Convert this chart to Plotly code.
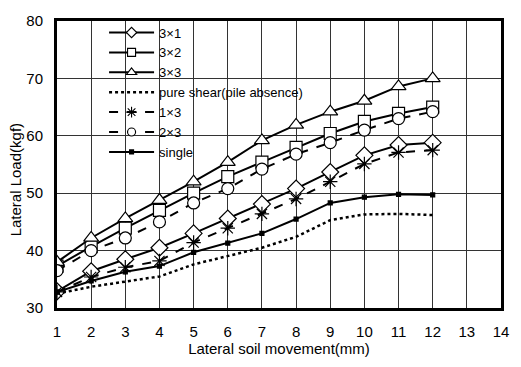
import plotly.graph_objects as go

x = [1, 2, 3, 4, 5, 6, 7, 8, 9, 10, 11, 12]
s3x1 = [32.9, 36.4, 38.5, 40.5, 43.0, 45.6, 48.1, 50.8, 53.7, 56.6, 58.4, 58.8]
s3x2 = [37.3, 40.7, 43.9, 47.0, 50.0, 52.9, 55.4, 58.0, 60.4, 62.5, 63.9, 65.0]
s3x3 = [38.0, 42.2, 45.6, 48.8, 52.0, 55.4, 59.2, 61.9, 64.2, 66.1, 68.6, 70.0]
pure = [32.5, 33.7, 34.6, 35.5, 37.6, 39.0, 40.5, 42.4, 45.3, 46.3, 46.4, 46.2]
s1x3 = [32.8, 35.4, 37.1, 38.2, 41.4, 43.9, 46.4, 49.0, 52.0, 55.1, 57.1, 57.5]
s2x3 = [36.5, 40.0, 42.2, 45.0, 48.3, 50.8, 54.2, 56.8, 58.8, 61.0, 63.0, 64.2]
single = [32.8, 34.7, 36.3, 37.3, 39.7, 41.3, 43.0, 45.5, 48.3, 49.3, 49.8, 49.7]

names = ["3×1", "3×2", "3×3", "pure shear(pile absence)", "1×3", "2×3", "single"]
xticks = list(range(1, 15))
yticks = [30, 40, 50, 60, 70, 80]

blk = "black"
series = [
    (names[0], s3x1, "diamond", "solid", 13, 8, "white"),
    (names[1], s3x2, "square", "solid", 12, 8, "white"),
    (names[2], s3x3, "triangle-up", "solid", 13, 9, "white"),
    (names[3], pure, None, "dot", 0, 0, None),
    (names[4], s1x3, "asterisk-open", "dash", 12, 9, None),
    (names[5], s2x3, "circle", "dash", 12, 8, "white"),
    (names[6], single, "square", "solid", 4, 4, blk),
]

fig = go.Figure()
# data traces
for name, y, sym, dash, size, lsize, fill in series:
    if sym is None:
        fig.add_trace(go.Scatter(x=x, y=y, name=name, mode="lines", showlegend=False,
                                 line=dict(color=blk, width=2.5, dash="dot")))
    else:
        fig.add_trace(go.Scatter(
            x=x, y=y, name=name, mode="lines+markers", showlegend=False,
            line=dict(color=blk, width=2, dash=dash),
            marker=dict(symbol=sym, size=size, color=fill if fill else blk,
                        line=dict(color=blk, width=1.2)),
        ))
# legend-only traces with smaller symbols
for name, y, sym, dash, size, lsize, fill in series:
    if sym is None:
        fig.add_trace(go.Scatter(x=[None], y=[None], name=name, mode="lines",
                                 line=dict(color=blk, width=2.5, dash="dot")))
    else:
        fig.add_trace(go.Scatter(
            x=[None], y=[None], name=name, mode="lines+markers",
            line=dict(color=blk, width=2, dash=dash),
            marker=dict(symbol=sym, size=lsize, color=fill if fill else blk,
                        line=dict(color=blk, width=1.1)),
        ))

fig.update_layout(
    width=521, height=367,
    margin=dict(l=57, r=13, t=15, b=57),
    paper_bgcolor="white", plot_bgcolor="white",
    font=dict(family="Liberation Sans, Arial, sans-serif", size=15, color="black"),
    showlegend=True,
    legend=dict(x=0.106, y=1.012, xanchor="left", yanchor="top",
                bgcolor="rgba(0,0,0,0)", borderwidth=0,
                font=dict(size=13), itemwidth=45, tracegroupgap=0),
    annotations=[dict(text="Lateral Load(kgf)", textangle=-90, x=-42/451, xref="paper",
                      xanchor="center", y=0.447, yref="paper", yanchor="middle",
                      showarrow=False, font=dict(size=15))],
)
fig.update_xaxes(range=[1, 14], tickvals=xticks, ticks="", ticklabelstandoff=8,
                 tickfont=dict(size=15),
                 showgrid=True, gridcolor="#333", gridwidth=1,
                 showline=True, linecolor="black", linewidth=3, mirror=True,
                 zeroline=False,
                 title=dict(text="Lateral soil movement(mm)", font=dict(size=15), standoff=4))
fig.update_yaxes(range=[30, 80], tickvals=yticks, ticks="", ticklabelstandoff=8,
                 tickfont=dict(size=15),
                 showgrid=True, gridcolor="#333", gridwidth=1,
                 showline=True, linecolor="black", linewidth=3, mirror=True,
                 zeroline=False)

fig.write_html("out.html")
